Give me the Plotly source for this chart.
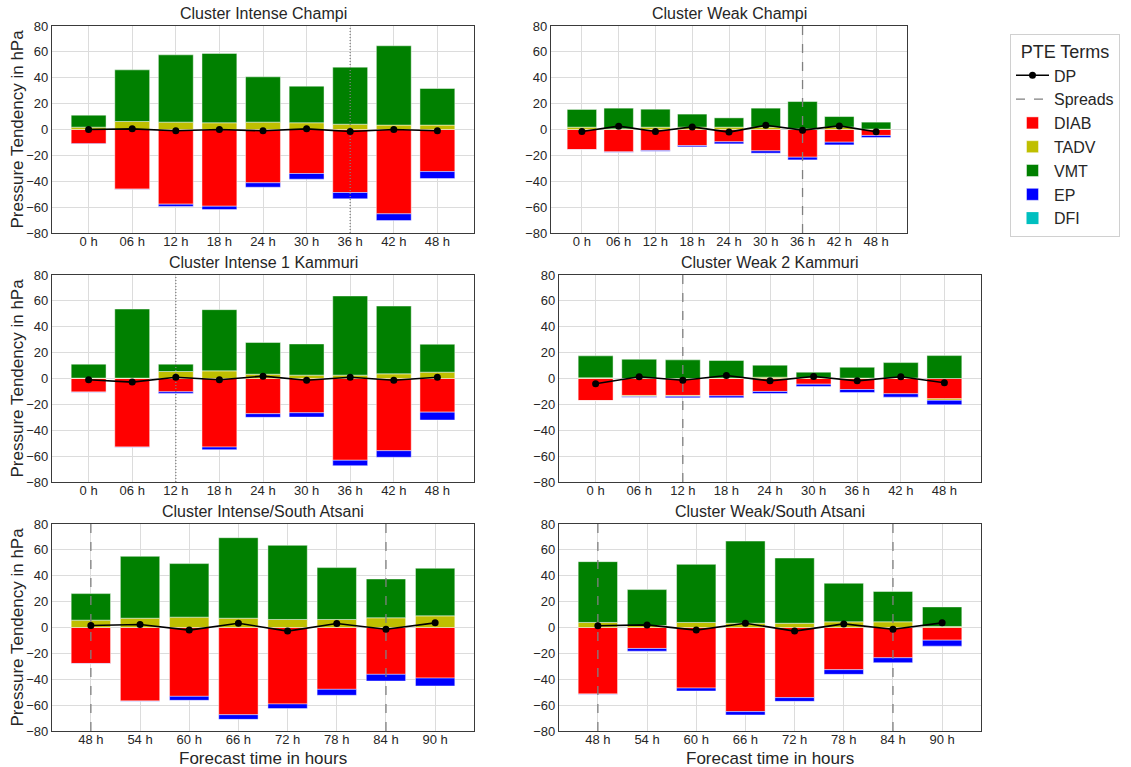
import plotly.graph_objects as go

# ---------------- data ----------------
hours_a = ["0 h", "06 h", "12 h", "18 h", "24 h", "30 h", "36 h", "42 h", "48 h"]
hours_b = ["48 h", "54 h", "60 h", "66 h", "72 h", "78 h", "84 h", "90 h"]

titles = ["Cluster Intense Champi", "Cluster Weak Champi",
          "Cluster Intense 1 Kammuri", "Cluster Weak 2 Kammuri",
          "Cluster Intense/South Atsani", "Cluster Weak/South Atsani"]

# Cluster Intense Champi
ic_diab = [-11.1, -46.1, -57.7, -59.3, -41.2, -34.0, -48.7, -65.2, -32.5]
ic_tadv = [1.8, 6.2, 5.7, 5.2, 5.7, 5.2, 4.1, 3.4, 3.4]
ic_vmt = [9.3, 39.9, 52.0, 53.6, 35.0, 28.3, 44.1, 61.3, 28.3]
ic_ep = [-0.1, -0.2, -1.8, -2.6, -3.4, -4.4, -4.9, -5.2, -5.4]
ic_dfi = [0, 0, 0, 0, 0, 0, 0, 0, 0]
ic_dp = [0.0, 0.5, -1.0, 0.0, -1.0, 0.5, -1.5, 0.0, -1.0]
ic_spread = ["36 h"]

# Cluster Weak Champi
wc_diab = [-15.5, -17.3, -16.2, -12.4, -9.5, -16.5, -21.4, -9.8, -4.6]
wc_tadv = [1.8, 0.5, 1.8, 1.8, 1.8, 1.8, 0.5, 1.8, 0.3]
wc_vmt = [13.7, 16.0, 13.9, 10.1, 7.2, 14.7, 21.1, 8.2, 5.4]
wc_ep = [-0.1, -0.3, -0.6, -1.0, -1.6, -1.8, -2.1, -2.1, -1.6]
wc_dfi = [0, 0, 0, 0, 0, 0, 0, 0, 0]
wc_dp = [-1.5, 2.6, -1.5, 2.0, -2.0, 3.3, -0.5, 2.8, -1.8]
wc_spread = ["36 h"]

# Cluster Intense 1 Kammuri
ik_diab = [-10.5, -53.0, -10.3, -53.0, -27.2, -26.5, -63.2, -55.8, -26.0]
ik_tadv = [0.3, 0.3, 5.4, 5.9, 3.3, 2.6, 2.6, 3.6, 4.9]
ik_vmt = [10.8, 53.4, 5.7, 47.3, 24.5, 24.1, 61.2, 52.4, 21.6]
ik_ep = [-0.1, -0.2, -1.3, -2.0, -2.8, -3.3, -4.2, -5.1, -6.1]
ik_dfi = [0, 0, 0, 0, 0, 0, 0, 0, 0]
ik_dp = [-1.0, -2.8, 1.0, -1.0, 1.8, -1.3, 1.0, -1.3, 1.0]
ik_spread = ["12 h"]

# Cluster Weak 2 Kammuri
wk_diab = [-17.0, -13.1, -13.1, -13.4, -10.0, -4.4, -8.5, -11.8, -15.7]
wk_tadv = [0.5, -0.9, -0.7, 0.3, 1.0, 0.5, 0.3, 0.3, -1.2]
wk_vmt = [17.0, 14.9, 14.4, 13.6, 9.3, 4.4, 8.4, 12.0, 17.7]
wk_ep = [-0.1, -0.4, -1.1, -1.5, -1.6, -1.8, -2.3, -2.6, -3.4]
wk_dfi = [0, 0, 0, 0, 0, 0, 0, 0, 0]
wk_dp = [-4.1, 1.3, -1.3, 2.3, -1.8, 1.5, -1.8, 1.3, -3.3]
wk_spread = ["12 h"]

# Cluster Intense/South Atsani
ia_diab = [-27.8, -56.8, -53.2, -67.4, -59.1, -47.8, -36.2, -39.1]
ia_tadv = [5.7, 7.2, 8.0, 7.2, 6.2, 6.2, 7.5, 9.0]
ia_vmt = [20.5, 47.8, 41.4, 62.2, 57.3, 40.1, 30.0, 36.8]
ia_ep = [-0.2, -0.3, -3.1, -3.6, -3.6, -4.6, -5.2, -6.1]
ia_dfi = [0, 0, 0, 0, 0, 0, 0, 0]
ia_dp = [1.5, 2.3, -2.0, 3.3, -2.8, 3.1, -1.3, 3.6]
ia_spread = ["48 h", "84 h"]

# Cluster Weak/South Atsani
wa_diab = [-51.4, -16.2, -46.8, -65.0, -54.2, -32.6, -23.4, -9.8]
wa_tadv = [3.9, 1.5, 3.9, 3.3, 3.3, 4.4, 4.4, 0.8]
wa_vmt = [47.0, 27.8, 44.9, 63.5, 50.4, 29.8, 23.4, 15.1]
wa_ep = [-0.2, -2.1, -2.3, -2.6, -2.9, -3.6, -3.8, -4.6]
wa_dfi = [0, 0, 0, 0, 0, 0, 0, 0]
wa_dp = [1.3, 2.0, -2.0, 3.3, -2.8, 2.8, -1.3, 3.6]
wa_spread = ["48 h", "84 h"]

# ---------------- layout helpers ----------------
W, H = 1131, 767
FONT = "Liberation Sans, Arial, sans-serif"
TXT = "#262626"

# axes boxes in pixels: (left, right, top, bottom)
boxes = [(52, 474, 26, 233), (551, 907, 26, 233),
         (52, 474, 275, 482), (559, 981, 275, 482),
         (52, 474, 524, 731), (559, 981, 524, 731)]

panels = [
    (hours_a, ic_diab, ic_tadv, ic_vmt, ic_ep, ic_dfi, ic_dp, ic_spread, "1px,2px"),
    (hours_a, wc_diab, wc_tadv, wc_vmt, wc_ep, wc_dfi, wc_dp, wc_spread, "dash"),
    (hours_a, ik_diab, ik_tadv, ik_vmt, ik_ep, ik_dfi, ik_dp, ik_spread, "1px,2px"),
    (hours_a, wk_diab, wk_tadv, wk_vmt, wk_ep, wk_dfi, wk_dp, wk_spread, "dash"),
    (hours_b, ia_diab, ia_tadv, ia_vmt, ia_ep, ia_dfi, ia_dp, ia_spread, "dash"),
    (hours_b, wa_diab, wa_tadv, wa_vmt, wa_ep, wa_dfi, wa_dp, wa_spread, "dash"),
]

colors = {"DIAB": "#ff0000", "TADV": "#bfbf00", "VMT": "#008000",
          "EP": "#0000ff", "DFI": "#00bfbf"}
rank = {"DP": 1, "Spreads": 2, "DIAB": 3, "TADV": 4, "VMT": 5, "EP": 6, "DFI": 7}

fig = go.Figure()
layout = {}
annotations = []
spread_legend_done = False

for i, (cats, diab, tadv, vmt, ep, dfi, dp, spread, dash) in enumerate(panels):
    n = i + 1
    xa = "x" if n == 1 else f"x{n}"
    ya = "y" if n == 1 else f"y{n}"
    first = (n == 1)
    for name, vals in [("DIAB", diab), ("TADV", tadv), ("VMT", vmt), ("EP", ep), ("DFI", dfi)]:
        fig.add_trace(go.Bar(
            x=cats, y=vals, name=name, xaxis=xa, yaxis=ya,
            marker=dict(color=colors[name],
                        line=dict(color="rgba(255,255,255,0.45)", width=0 if name == "DFI" else 1)),
            legendgroup=name, showlegend=first, legendrank=rank[name],
            width=0.8,
        ))
    for k, s in enumerate(spread):
        show = (not spread_legend_done) and dash == "dash"
        if show:
            spread_legend_done = True
        fig.add_trace(go.Scatter(
            x=[s, s], y=[-80, 80], mode="lines", name="Spreads",
            xaxis=xa, yaxis=ya,
            line=dict(color="#808080", width=1.3, dash=dash),
            legendgroup="Spreads", showlegend=show, legendrank=rank["Spreads"],
        ))
    fig.add_trace(go.Scatter(
        x=cats, y=dp, mode="lines+markers", name="DP", xaxis=xa, yaxis=ya,
        line=dict(color="black", width=1.6), marker=dict(color="black", size=7),
        legendgroup="DP", showlegend=first, legendrank=rank["DP"],
    ))

    l, r, t, b = boxes[i]
    nc = len(cats)
    pad = 0.4 + 0.05 * (nc - 1 + 0.8)
    axis_common = dict(showline=True, mirror=True, linecolor="#3a3a3a", linewidth=1.3,
                       showgrid=True, gridcolor="#dcdcdc", gridwidth=1, zeroline=False,
                       ticks="", automargin=False,
                       tickfont=dict(family=FONT, size=13, color=TXT))
    layout["xaxis" if n == 1 else f"xaxis{n}"] = dict(
        domain=[l / W, r / W], anchor=ya, type="category",
        range=[-pad, nc - 1 + pad], ticklabelstandoff=-4, **axis_common)
    layout["yaxis" if n == 1 else f"yaxis{n}"] = dict(
        domain=[1 - b / H, 1 - t / H], anchor=xa, range=[-80, 80],
        tickvals=[-80, -60, -40, -20, 0, 20, 40, 60, 80], **axis_common)

    annotations.append(dict(
        text=titles[i], x=(l + r) / 2 / W, y=1 - (t - 2) / H, xref="paper", yref="paper",
        xanchor="center", yanchor="bottom", showarrow=False,
        font=dict(family=FONT, size=16, color=TXT)))
    if i % 2 == 0:
        annotations.append(dict(
            text="Pressure Tendency in hPa", x=17 / W, y=1 - (t + b) / 2 / H,
            xref="paper", yref="paper", xanchor="center", yanchor="middle",
            textangle=-90, showarrow=False, font=dict(family=FONT, size=17, color=TXT)))
    if i >= 4:
        annotations.append(dict(
            text="Forecast time in hours", x=(l + r) / 2 / W, y=1 - 758 / H,
            xref="paper", yref="paper", xanchor="center", yanchor="middle",
            showarrow=False, font=dict(family=FONT, size=17, color=TXT)))

fig.update_layout(
    **layout,
    barmode="relative",
    width=W, height=H,
    margin=dict(l=0, r=0, t=0, b=0, autoexpand=False),
    paper_bgcolor="white", plot_bgcolor="white",
    annotations=annotations,
    font=dict(family=FONT, color=TXT),
    legend=dict(
        title=dict(text="PTE Terms", font=dict(family=FONT, size=18, color=TXT), side="top center"),
        x=1010 / W, y=1 - 34 / H, xanchor="left", yanchor="top",
        bgcolor="white", bordercolor="#d0d0d0", borderwidth=1,
        font=dict(family=FONT, size=16, color=TXT),
        traceorder="normal", itemwidth=33,
    ),
)

fig.write_html("out.html", config={"displayModeBar": False},
               post_script="document.body.style.margin='0';document.body.style.overflow='hidden';")
